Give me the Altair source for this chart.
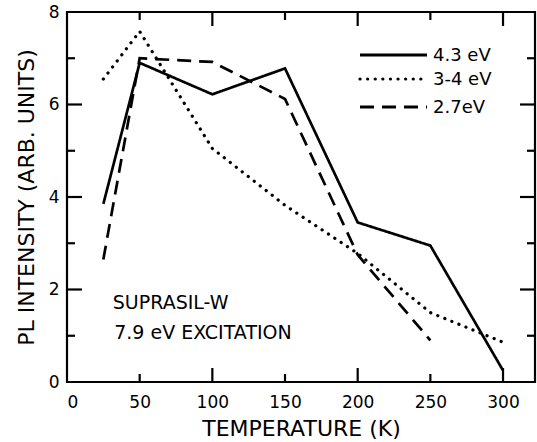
import altair as alt
import pandas as pd

# Data
temps_43 = [25, 50, 100, 150, 200, 250, 300]
vals_43 = [3.85, 6.9, 6.22, 6.78, 3.45, 2.95, 0.25]
temps_34 = [25, 50, 100, 150, 200, 250, 300]
vals_34 = [6.55, 7.58, 5.05, 3.82, 2.78, 1.5, 0.86]
temps_27 = [25, 50, 100, 150, 200, 250]
vals_27 = [2.65, 7.0, 6.92, 6.12, 2.75, 0.9]
series_names = ["4.3 eV", "3-4 eV", "2.7eV"]

x_major = [100, 200, 300]
x_minor = [50, 150, 250]
y_major = [2, 4, 6]
y_minor = [1, 3, 5, 7]

X_MAX, Y_MAX = 322, 8
W, H = 468, 370
FONT = "DejaVu Sans"

xs = alt.Scale(domain=[0, X_MAX], nice=False, zero=False)
ys = alt.Scale(domain=[0, Y_MAX], nice=False, zero=False)

d43 = pd.DataFrame({"T": temps_43, "I": vals_43})
d34 = pd.DataFrame({"T": temps_34, "I": vals_34})
d27 = pd.DataFrame({"T": temps_27, "I": vals_27})

xaxis = alt.Axis(values=[0, 50, 100, 150, 200, 250, 300], ticks=False, domain=False, grid=False,
                 labelFontSize=17, labelFont=FONT, labelPadding=12, labelColor="black",
                 title="TEMPERATURE (K)", titleFontSize=22, titleFont=FONT,
                 titleFontWeight="normal", titlePadding=8, titleColor="black")
yaxis = alt.Axis(values=[0, 2, 4, 6, 8], ticks=False, domain=False, grid=False,
                 labelFontSize=17, labelFont=FONT, labelPadding=8, labelColor="black",
                 title="PL INTENSITY (ARB. UNITS)", titleFontSize=22, titleFont=FONT,
                 titleFontWeight="normal", titlePadding=10, titleColor="black")

def line(d, dash, cap="butt", width=2.7):
    return alt.Chart(d).mark_line(color="black", strokeWidth=width, strokeDash=dash, strokeCap=cap).encode(
        x=alt.X("T:Q", scale=xs, axis=xaxis), y=alt.Y("I:Q", scale=ys, axis=yaxis))

l43 = line(d43, [1, 0])
l34 = line(d34, [0.1, 7.5], cap="round", width=3.2)
l27 = line(d27, [14, 8])

# inward tick segments; lengths are a style, converted from pixels to data units
def tx(px):
    return px * X_MAX / W

def ty(px):
    return px * Y_MAX / H

tick_rows = []
for v in x_major + x_minor:
    L = 14 if v in x_major else 8
    tick_rows.append({"x0": v, "x1": v, "y0": 0, "y1": ty(L)})
    tick_rows.append({"x0": v, "x1": v, "y0": Y_MAX, "y1": Y_MAX - ty(L)})
for v in y_major + y_minor:
    L = 15 if v in y_major else 8
    tick_rows.append({"x0": 0, "x1": tx(L), "y0": v, "y1": v})
    tick_rows.append({"x0": X_MAX, "x1": X_MAX - tx(L), "y0": v, "y1": v})
ticks_df = pd.DataFrame(tick_rows)

ticks = alt.Chart(ticks_df).mark_rule(color="black", strokeWidth=2.2).encode(
    x=alt.X("x0:Q", scale=xs, axis=xaxis), x2="x1:Q",
    y=alt.Y("y0:Q", scale=ys, axis=yaxis), y2="y1:Q")

# manual legend
LX0, LX1, LT = 293, 360, 366
LY = [43, 67, 95]
def leg_line(i, dash, cap="butt", width=3):
    return alt.Chart(pd.DataFrame({"s": [series_names[i]]})).mark_rule(
        color="black", strokeWidth=width, strokeDash=dash, strokeCap=cap).encode(
        x=alt.value(LX0), x2=alt.value(LX1), y=alt.value(LY[i]))

legend = [leg_line(0, [1, 0]), leg_line(1, [0.1, 7.5], cap="round", width=3.2), leg_line(2, [14, 8])]
leg_text = [
    alt.Chart(pd.DataFrame({"s": [series_names[i]]})).mark_text(
        align="left", baseline="middle", fontSize=18, font=FONT, color="black").encode(
        x=alt.value(LT), y=alt.value(LY[i] + 1), text="s:N")
    for i in range(3)
]

ann_df = pd.DataFrame({"T": [31.5, 32.5], "I": [1.71, 1.06], "label": ["SUPRASIL-W", "7.9 eV EXCITATION"]})
ann = alt.Chart(ann_df).mark_text(align="left", baseline="middle", fontSize=19, font=FONT, color="black").encode(
    x=alt.X("T:Q", scale=xs), y=alt.Y("I:Q", scale=ys), text="label:N")

chart = alt.layer(l43, l34, l27, ticks, *legend, *leg_text, ann).properties(
    width=W, height=H,
    background="white",
    autosize=alt.AutoSizeParams(type="none"),
    padding={"left": 67, "top": 12, "right": 2, "bottom": 60},
).configure_view(stroke="black", strokeWidth=2.2)

chart.save("out.html", embed_options={"renderer": "svg", "actions": False})
